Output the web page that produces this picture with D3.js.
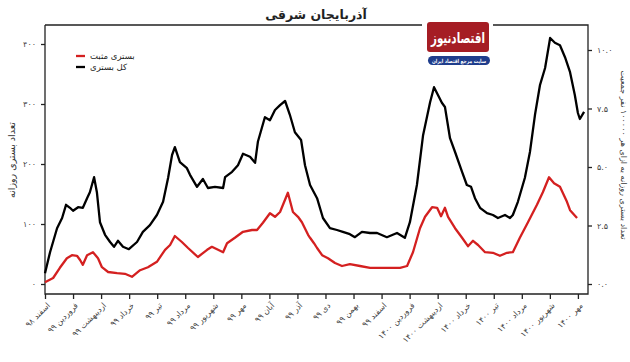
<!DOCTYPE html>
<html><head><meta charset="utf-8">
<script src="https://cdn.jsdelivr.net/npm/d3@7"></script>
<style>
html,body{margin:0;padding:0;background:#fff;}
svg{display:block;font-family:"DejaVu Sans","Noto Sans",sans-serif;}
</style></head>
<body><svg id="c" width="630" height="362"></svg>
<script>
// ---- data ----
const monthLabels = ["اسفند ۹۸","فروردین ۹۹","اردیبهشت ۹۹","خرداد ۹۹","تیر ۹۹","مرداد ۹۹","شهریور ۹۹","مهر ۹۹","آبان ۹۹","آذر ۹۹","دی ۹۹","بهمن ۹۹","اسفند ۹۹","فروردین ۱۴۰۰","اردیبهشت ۱۴۰۰","خرداد ۱۴۰۰","تیر ۱۴۰۰","مرداد ۱۴۰۰","شهریور ۱۴۰۰","مهر ۱۴۰۰"];
const leftTicks = [0,100,200,300,400];
const leftTickLabels = ["۰","۱۰۰","۲۰۰","۳۰۰","۴۰۰"];
const rightTicks = [0,2.5,5,7.5,10];
const rightTickLabels = ["۰.۰","۲.۵","۵.۰","۷.۵","۱۰.۰"];
// time in months since start of Esfand 98
const totalT = [0,0.18,0.43,0.61,0.75,0.89,1.0,1.18,1.35,1.5,1.6,1.75,1.85,1.96,2.14,2.32,2.46,2.6,2.78,2.99,3.28,3.49,3.74,3.99,4.21,4.39,4.53,4.63,4.81,5.06,5.17,5.42,5.63,5.81,6.06,6.35,6.42,6.67,6.88,7.06,7.31,7.49,7.59,7.84,8.02,8.2,8.38,8.56,8.73,8.91,9.13,9.27,9.45,9.7,9.91,10.16,10.41,10.62,10.87,11.05,11.3,11.59,11.84,12.19,12.55,12.83,13.01,13.26,13.48,13.73,13.87,14.01,14.15,14.26,14.44,14.62,14.87,15.04,15.19,15.33,15.51,15.76,15.97,16.15,16.4,16.58,16.68,16.86,17.11,17.29,17.47,17.65,17.83,18.01,18.18,18.36,18.54,18.72,18.89,19.0,19.07,19.22];
const totalV = [18,53,93,110,132,127,122,128,127,143,153,178,153,103,82,70,62,72,62,58,70,87,98,115,137,177,215,228,203,193,182,162,175,160,162,160,178,187,198,217,212,202,237,278,273,290,298,305,282,253,240,198,165,143,110,93,90,87,83,78,87,85,85,78,85,77,103,165,248,303,328,315,302,295,243,220,187,165,162,143,127,118,115,110,115,110,115,137,177,220,282,332,360,410,402,398,378,353,315,285,275,287];
const posT = [0,0.29,0.53,0.78,0.96,1.14,1.25,1.35,1.5,1.71,1.89,2.03,2.25,2.57,2.85,3.1,3.39,3.67,3.99,4.28,4.46,4.63,4.88,5.1,5.45,5.78,5.95,6.17,6.35,6.49,6.77,7.06,7.38,7.56,7.77,8.02,8.2,8.38,8.66,8.84,9.02,9.16,9.38,9.45,9.59,9.7,9.88,10.09,10.34,10.59,10.87,11.23,11.59,11.94,12.3,12.66,12.91,13.12,13.37,13.55,13.8,13.98,14.12,14.26,14.37,14.62,14.87,15.08,15.26,15.44,15.69,15.97,16.22,16.47,16.68,16.93,17.22,17.54,17.75,17.97,18.15,18.36,18.61,18.72,18.97];
const posV = [3,10,27,43,48,47,40,32,48,53,43,28,20,18,17,12,23,28,37,57,65,80,70,60,45,57,62,57,53,68,77,87,90,90,102,118,112,120,152,120,112,103,82,77,68,60,48,43,35,30,33,30,27,27,27,27,30,53,93,112,128,127,113,127,112,93,77,63,72,65,53,52,47,52,53,77,103,132,153,178,168,162,137,123,110];
const seriesNames = ["بستری مثبت","کل بستری"];
const seriesColors = ["#d42020","#000000"];

// ---- layout ----
const L = 45, R = 588, T = 25, B = 294;
const svg = d3.select("#c");
const x = d3.scaleLinear().domain([0,19.36]).range([L,R]);
const yL = d3.scaleLinear().domain([0,400]).range([284,44]);
const yR = d3.scaleLinear().domain([0,10]).range([284,50]);

// frame
const fr = svg.append("g").attr("stroke","#222").attr("stroke-width",1.3).attr("fill","none");
fr.append("path").attr("d",`M${L},${T}V${B}H${R}V${T}H${L}`);

// axes
const axL = svg.append("g").attr("transform",`translate(${L},0)`)
  .call(d3.axisLeft(yL).tickValues(leftTicks).tickFormat((d,i)=>leftTickLabels[i]).tickSize(4).tickPadding(5));
const axR = svg.append("g").attr("transform",`translate(${R},0)`)
  .call(d3.axisRight(yR).tickValues(rightTicks).tickFormat((d,i)=>rightTickLabels[i]).tickSize(4).tickPadding(5));
const axB = svg.append("g").attr("transform",`translate(0,${B})`)
  .call(d3.axisBottom(x).tickValues(d3.range(monthLabels.length)).tickFormat((d,i)=>monthLabels[i]).tickSize(5));
[axL,axR,axB].forEach(a=>{a.select(".domain").remove();a.selectAll("line").attr("stroke","#222").attr("stroke-width",1.3);
  a.selectAll("text").attr("fill","#444").style("font-size","8px").style("font-family","DejaVu Sans, sans-serif");});
axB.selectAll("text").attr("text-anchor","end").attr("dy",0).attr("y",0)
  .attr("transform","translate(5,12) rotate(-45)");

// lines
const lineGen = (T_,V_,ys)=>d3.line().x(i=>x(T_[i])).y(i=>ys(V_[i]))(d3.range(T_.length));
svg.append("path").attr("d",lineGen(posT,posV,yL)).attr("fill","none").attr("stroke",seriesColors[0]).attr("stroke-width",2.3).attr("stroke-linejoin","round");
svg.append("path").attr("d",lineGen(totalT,totalV,yL)).attr("fill","none").attr("stroke",seriesColors[1]).attr("stroke-width",2.3).attr("stroke-linejoin","round");

// legend
seriesNames.forEach((n,i)=>{
  const yy = 56 + i*11;
  svg.append("line").attr("x1",76).attr("x2",85).attr("y1",yy).attr("y2",yy).attr("stroke",seriesColors[i]).attr("stroke-width",2.3);
  svg.append("text").attr("x",90).attr("y",yy+3).attr("text-anchor","start").attr("direction","ltr")
    .style("font-size","8.5px").attr("fill","#222").text(n);
});

// axis titles
svg.append("text").attr("transform","translate(15,160) rotate(-90)").attr("text-anchor","middle")
  .style("font-size","9.5px").attr("fill","#333").text("تعداد بستری روزانه");
svg.append("text").attr("transform","translate(621,155) rotate(90)").attr("text-anchor","middle")
  .style("font-size","8px").attr("fill","#333").text("تعداد بستری روزانه به ازای هر ۱۰۰۰۰۰ نفر جمعیت");

// title
svg.append("rect").attr("x",270).attr("y",8).attr("width",94).attr("height",14).attr("fill","#fff");
svg.append("text").attr("x",316).attr("y",19).attr("text-anchor","middle").style("font-size","12.5px").style("font-weight","bold").attr("fill","#222").text("آذربایجان شرقی");

// logo
svg.append("rect").attr("x",422).attr("y",18).attr("width",71).attr("height",50).attr("fill","#fff");
svg.append("rect").attr("x",427).attr("y",22).attr("width",62).attr("height",30).attr("rx",3).attr("fill","#a51d24");
svg.append("text").attr("x",431).attr("y",43).attr("textLength",54).attr("lengthAdjust","spacingAndGlyphs")
  .style("font-size","15px").style("font-weight","bold").attr("fill","#fff").text("اقتصادنیوز");
svg.append("rect").attr("x",428).attr("y",56).attr("width",62).attr("height",9).attr("rx",4.5).attr("fill","#1f3d8c");
svg.append("text").attr("x",432).attr("y",62.8).attr("textLength",54).attr("lengthAdjust","spacingAndGlyphs")
  .style("font-size","5.5px").style("font-weight","bold").attr("fill","#fff").text("سایت مرجع اقتصاد ایران");
</script></body></html>
